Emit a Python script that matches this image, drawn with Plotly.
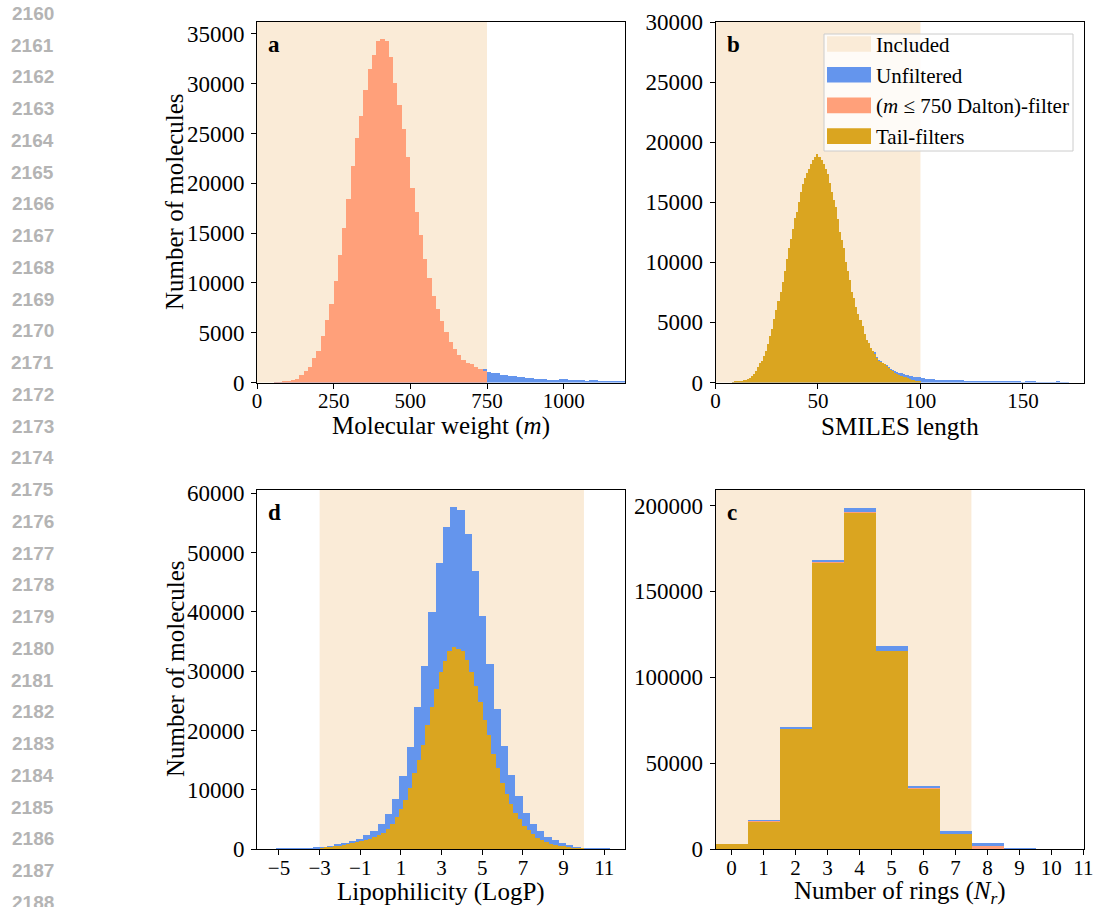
import numpy as np
import plotly.graph_objects as go

# ---------------- data ----------------
line_numbers = [str(n) for n in range(2160, 2189)]

# Panel a: molecular weight histogram (bins of equal width starting at mw_edge0)
mw_edge0, mw_width = 55.0, 13.9
mw_filtered = [10, 30, 60, 100, 260, 330, 770, 1200, 1600, 2440,
               3170, 4670, 6270, 7880, 10180, 12780, 15480, 18450, 21720, 24520,
               26800, 29370, 31430, 32900, 34300, 34470, 34240, 32700, 30030, 27860,
               25430, 22660, 19520, 17150, 14780, 12410, 10480, 8710, 7340, 6210,
               5070, 4070, 3340, 2770, 2270, 2000, 1840, 1540, 1330, 1170]
mw_unfiltered = mw_filtered[:-1] + [1340,
               1100, 1000, 960, 800, 760, 700, 660, 560, 530, 450,
               430, 380, 360, 310, 300, 300, 300, 370, 340, 270,
               270, 260, 210, 200, 220, 230, 200, 200, 190, 190,
               180, 180, 170]

# Panel b: SMILES length (integer bins, first bin starts at 8)
sm_start = 8
sm_tail = [20, 50, 80, 110, 130, 190, 230, 300, 390, 500,
           690, 940, 1280, 1640, 1830, 2170, 2610, 3220, 3830, 4470,
           5300, 6000, 6780, 7560, 8360, 9280, 10300, 11220, 11970, 12800,
           13670, 14220, 15030, 15830, 16560, 17030, 17440, 17800, 18220, 18500,
           18780, 19050, 18780, 18500, 18220, 17800, 17390, 16610, 15860, 15220,
           14610, 13640, 12530, 11830, 11220, 10030, 9300, 8500, 7530, 7000,
           6280, 5670, 5220, 4670, 4000, 3500, 3300, 2890, 2610, 2390,
           2060, 1830, 1720, 1610, 1500, 1360, 1170, 1060, 950, 830,
           720, 640, 560, 470, 420, 360, 280, 220, 170, 140,
           110, 80]
sm_unfiltered = sm_tail[:69] + [2500, 2150, 1900, 1780, 1660, 1550, 1420, 1250, 1110, 1020,
           950, 880, 820, 760, 700, 650, 600, 560, 520, 490,
           460, 440, 420,
           360, 340, 330, 320, 320, 310, 300,
           250, 240, 250, 240, 250, 240, 230, 240, 230,
           220, 220, 210, 220, 210,
           140, 140, 140, 140, 140, 140, 140, 130, 140, 140, 130, 140, 130,
           90, 90, 90, 90, 90, 90, 90, 90, 90,
           80, 80, 80, 80, 80, 80, 40, 40,
           80, 80, 80, 80, 80,
           30, 30, 30, 30, 30, 30, 30, 30, 30, 30,
           80, 80, 20, 20, 20, 20]

# Panel d: LogP
lp_blue_edge0, lp_blue_width = -5.131, 0.3563
lp_unfiltered = [80, 120, 170, 220, 280, 330, 440, 610, 840, 1060,
                 1390, 1780, 2340, 3060, 4180, 6000, 8450, 12310, 17210, 23900,
                 30910, 39940, 48300, 54300, 57650, 57090, 53190, 46950, 39270, 31300,
                 23680, 17320, 12450, 8900, 6100, 4290, 3000, 2100, 1500, 1060,
                 670, 330, 250, 170, 110, 60]
lp_gold_range = (-3.0, 10.0)
lp_tail = [290, 340, 410, 490, 590, 700, 830, 980, 1150, 1340,
           1550, 1780, 2050, 2340, 2730, 3450, 4180, 5400, 6800, 8350,
           10300, 12810, 14990, 17550, 20890, 24010, 27020, 29910, 31700, 33370,
           34040, 33810, 33420, 31860, 29910, 27520, 24900, 21780, 19330, 15990,
           13650, 11250, 9300, 7640, 6070, 5120, 4010, 3170, 2500, 1950,
           1620, 1230, 950, 780, 610, 480, 380, 290, 220, 160]

# Panel c: number of rings
rings = list(range(12))
ring_unfiltered = [3300, 17100, 71000, 168500, 198700, 118100, 37000, 10700, 3700, 750, 150, 30]
ring_mass = [3100, 16200, 70100, 166900, 196100, 115400, 35400, 9000, 1900, 0, 0, 0]
ring_tail = [3100, 16100, 70000, 166700, 195900, 115200, 35200, 8900, 0, 0, 0, 0]

C_INCL = "#FAEBD7"
C_BLUE = "#6495ED"
C_SALMON = "#FFA07A"
C_GOLD = "#DAA520"
SERIF = "Liberation Serif, Times New Roman, serif"

W, H = 1094, 907
def fx(px): return px / W
def fy(py): return 1 - py / H

fig = go.Figure()

def add_hist(x, y, width, color, xa, ya):
    fig.add_trace(go.Bar(x=x, y=y, width=width, marker=dict(color=color, line=dict(width=0)),
                         xaxis=xa, yaxis=ya, showlegend=False, hoverinfo="skip"))

# panel a
mw_centers = mw_edge0 + mw_width * (np.arange(len(mw_unfiltered)) + 0.5)
add_hist(mw_centers, mw_unfiltered, mw_width, C_BLUE, "x", "y")
add_hist(mw_centers[:len(mw_filtered)], mw_filtered, mw_width, C_SALMON, "x", "y")
# panel b
sm_c_u = sm_start + np.arange(len(sm_unfiltered)) + 0.5
sm_c_t = sm_start + np.arange(len(sm_tail)) + 0.5
add_hist(sm_c_u, sm_unfiltered, 1.0, C_BLUE, "x2", "y2")
add_hist(sm_c_t, sm_tail, 1.0, C_GOLD, "x2", "y2")
# panel d
lp_c_u = lp_blue_edge0 + lp_blue_width * (np.arange(len(lp_unfiltered)) + 0.5)
gw = (lp_gold_range[1] - lp_gold_range[0]) / len(lp_tail)
lp_c_t = lp_gold_range[0] + gw * (np.arange(len(lp_tail)) + 0.5)
add_hist(lp_c_u, lp_unfiltered, lp_blue_width, C_BLUE, "x3", "y3")
add_hist(lp_c_t, lp_tail, gw, C_GOLD, "x3", "y3")
# panel c
add_hist(rings, ring_unfiltered, 1.0, C_BLUE, "x4", "y4")
add_hist(rings, ring_mass, 1.0, C_SALMON, "x4", "y4")
add_hist(rings, ring_tail, 1.0, C_GOLD, "x4", "y4")

dom_xl = [fx(257), fx(625)]
dom_xr = [fx(715.5), fx(1084)]
dom_yt = [fy(382.5), fy(22)]
dom_yb = [fy(849.3), fy(490)]

def xax(domain, anchor, rng, tickvals):
    return dict(domain=domain, anchor=anchor, range=rng, tickvals=tickvals, showgrid=False,
                zeroline=False, showline=True, mirror=True, linecolor="black", linewidth=1,
                ticks="outside", ticklen=5, tickcolor="black", tickwidth=1,
                tickfont=dict(family=SERIF, size=21, color="black"),
                automargin=False, ticklabelstandoff=-6)
def yax(domain, anchor, rng, tickvals):
    d = xax(domain, anchor, rng, tickvals)
    d["tickformat"] = "d"
    d["tickfont"] = dict(family=SERIF, size=23, color="black")
    d["ticklabelstandoff"] = 2
    return d

fig.update_layout(
    template="none",
    width=W, height=H, margin=dict(l=0, r=0, t=0, b=0, pad=0), autosize=False,
    paper_bgcolor="white", plot_bgcolor="white", barmode="overlay", bargap=0,
    showlegend=False,
    font=dict(family=SERIF, color="black"),
    xaxis=xax(dom_xl, "y", [0, 1200], [0, 250, 500, 750, 1000]),
    yaxis=yax(dom_yt, "x", [0, 36190], list(range(0, 35001, 5000))),
    xaxis2=xax(dom_xr, "y2", [0, 179.8], [0, 50, 100, 150]),
    yaxis2=yax(dom_yt, "x2", [0, 30000], list(range(0, 30001, 5000))),
    xaxis3=xax(dom_xl, "y3", [-6.08, 12.02], list(range(-5, 12, 2))),
    yaxis3=yax(dom_yb, "x3", [0, 60530], list(range(0, 60001, 10000))),
    xaxis4=xax(dom_xr, "y4", [-0.5, 11.02], list(range(0, 12))),
    yaxis4=yax(dom_yb, "x4", [0, 209000], list(range(0, 200001, 50000))),
)

shapes = []
for xr, x0, x1 in [("x", 0, 750), ("x2", 0, 100), ("x3", -3, 10), ("x4", -0.5, 7.5)]:
    yr = xr.replace("x", "y")
    shapes.append(dict(type="rect", xref=xr, yref=yr + " domain", x0=x0, x1=x1, y0=0, y1=1,
                       fillcolor=C_INCL, line=dict(width=0), layer="below"))

# legend (manual)
shapes.append(dict(type="rect", xref="paper", yref="paper", x0=fx(824), x1=fx(1073),
                   y0=fy(151), y1=fy(34), fillcolor="rgba(255,255,255,0.8)",
                   line=dict(color="#cccccc", width=1), layer="above"))
legend_items = [("Included", C_INCL), ("Unfiltered", C_BLUE),
                ("(<i>m</i> ≤ 750 Dalton)-filter", C_SALMON), ("Tail-filters", C_GOLD)]
annotations = []
for i, (lab, col) in enumerate(legend_items):
    yc = 44 + i * 30.7
    shapes.append(dict(type="rect", xref="paper", yref="paper", x0=fx(827), x1=fx(871),
                       y0=fy(yc + 7.8), y1=fy(yc - 7.8), fillcolor=col, line=dict(width=0),
                       layer="above"))
    annotations.append(dict(text=lab, xref="paper", yref="paper", x=fx(874), y=fy(yc + 1),
                            xanchor="left", yanchor="middle", showarrow=False,
                            font=dict(family=SERIF, size=21, color="black")))
fig.update_layout(shapes=shapes)

# panel letters
for lab, px, py in [("a", 266, 44), ("b", 725, 44), ("d", 266, 512), ("c", 725, 512)]:
    annotations.append(dict(text="<b>%s</b>" % lab, xref="paper", yref="paper", x=fx(px), y=fy(py),
                            xanchor="left", yanchor="middle", showarrow=False,
                            font=dict(family=SERIF, size=23, color="black")))

# axis titles
ttl = dict(family=SERIF, size=25, color="black")
for text, px, py, ang in [("Number of molecules", 175, 202, -90),
                          ("Number of molecules", 175, 669, -90),
                          ("Molecular weight (<i>m</i>)", 441, 426, 0),
                          ("SMILES length", 900, 426, 0),
                          ("Lipophilicity (LogP)", 441, 892, 0),
                          ("Number of rings (<i>N</i><sub><i>r</i></sub>)", 900, 892, 0)]:
    annotations.append(dict(text=text, xref="paper", yref="paper", x=fx(px), y=fy(py),
                            xanchor="center", yanchor="middle", textangle=ang, showarrow=False,
                            font=ttl))

# line numbers gutter
for i, t in enumerate(line_numbers):
    annotations.append(dict(text="<b>%s</b>" % t, xref="paper", yref="paper", x=fx(56),
                            y=fy(13.3 + i * 31.75), xanchor="right", yanchor="middle",
                            showarrow=False,
                            font=dict(family="Liberation Sans, Arial, sans-serif", size=19,
                                      color="#b4b4b4")))
fig.update_layout(annotations=annotations)

fig.write_html("out.html")
